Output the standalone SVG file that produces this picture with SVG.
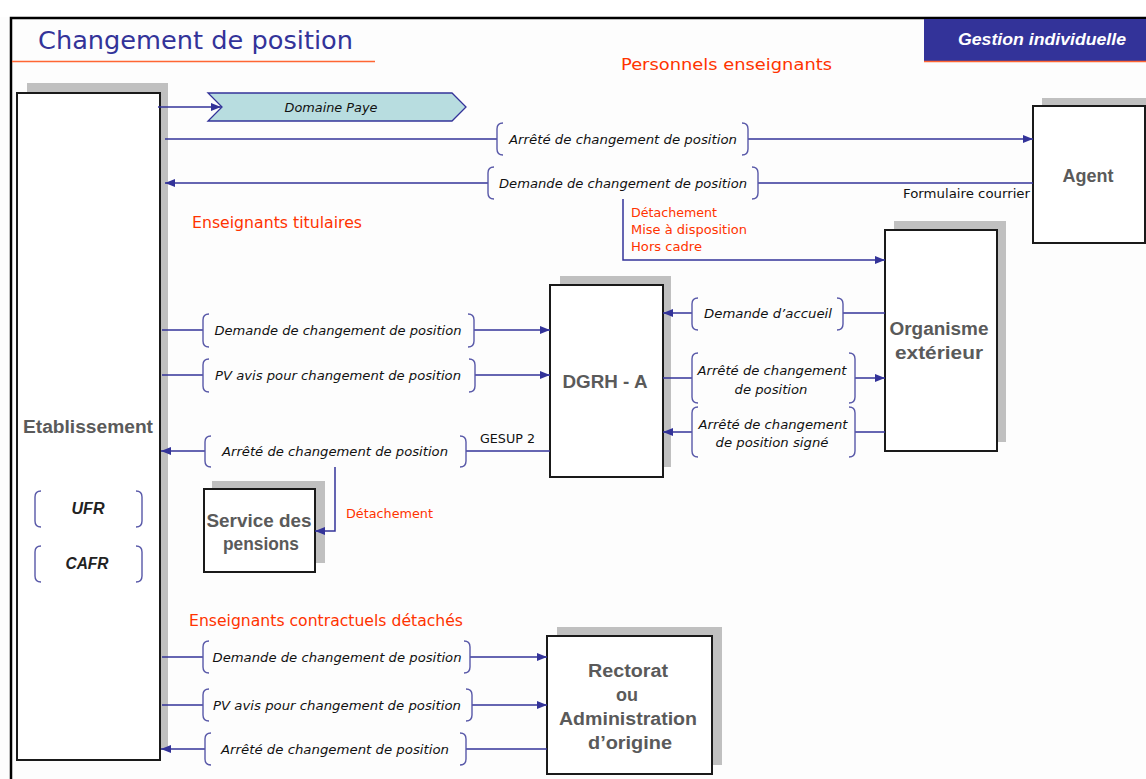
<svg xmlns="http://www.w3.org/2000/svg" width="1146" height="779" viewBox="0 0 1146 779">
  <defs>
    <marker id="arrow" viewBox="0 0 10 8" refX="10" refY="4" markerWidth="10" markerHeight="8" markerUnits="userSpaceOnUse" orient="auto">
      <path d="M0,0 L10,4 L0,8 Z" fill="#333399"/>
    </marker>
    <style>
      .shadow { fill: #c0c0c0; }
      .box { fill: #ffffff; stroke: #1a1a1a; stroke-width: 2; }
      .node-text { font-family: "Liberation Sans", Arial, sans-serif; font-weight: bold; font-size: 18px; fill: #5a5a5a; text-anchor: middle; }
      .wire { fill: none; stroke: #333399; stroke-width: 1.5; }
      .brace { fill: none; stroke: #5858a8; stroke-width: 1.4; }
      .label { font-family: "DejaVu Sans", Verdana, sans-serif; font-style: italic; font-size: 12.5px; fill: #111111; text-anchor: middle; }
      .note-red { font-family: "DejaVu Sans", Verdana, sans-serif; font-size: 12.5px; fill: #ff3300; }
      .section { font-family: "DejaVu Sans", Verdana, sans-serif; font-size: 15px; fill: #ff3300; }
      .note-black { font-family: "DejaVu Sans", Verdana, sans-serif; font-size: 12px; fill: #111111; }
    </style>
  </defs>

  <!-- page background and frame -->
  <rect x="0" y="0" width="1146" height="779" fill="#fdfdfd"/>
  <rect x="0" y="0" width="1146" height="17" fill="#ffffff"/>
  <path d="M11,779 V18 H1146" fill="none" stroke="#000000" stroke-width="2.5"/>

  <!-- header -->
  <g id="header">
    <text x="38" y="49" font-family="'DejaVu Sans', Verdana, sans-serif" font-size="25.5" fill="#333399" textLength="315" lengthAdjust="spacingAndGlyphs">Changement de position</text>
    <line x1="12" y1="61.5" x2="375" y2="61.5" stroke="#ff6633" stroke-width="1.5"/>
    <rect x="924" y="19" width="222" height="42" fill="#333399"/>
    <line x1="924" y1="61.5" x2="1146" y2="61.5" stroke="#ff6633" stroke-width="1.5"/>
    <text x="1042" y="45" font-family="'Liberation Sans', Arial, sans-serif" font-weight="bold" font-style="italic" font-size="16" fill="#ffffff" text-anchor="middle" textLength="168" lengthAdjust="spacingAndGlyphs">Gestion individuelle</text>
    <text x="621" y="70" class="section" font-size="16" textLength="211" lengthAdjust="spacingAndGlyphs">Personnels enseignants</text>
  </g>

  <!-- section titles and notes -->
  <g id="notes">
    <text x="192" y="228" class="section" textLength="170" lengthAdjust="spacingAndGlyphs">Enseignants titulaires</text>
    <text x="189" y="626" class="section" textLength="274" lengthAdjust="spacingAndGlyphs">Enseignants contractuels détachés</text>
    <text x="631" y="217" class="note-red" textLength="86" lengthAdjust="spacingAndGlyphs">Détachement</text>
    <text x="631" y="234" class="note-red" textLength="116" lengthAdjust="spacingAndGlyphs">Mise à disposition</text>
    <text x="631" y="251" class="note-red" textLength="71" lengthAdjust="spacingAndGlyphs">Hors cadre</text>
    <text x="346" y="518" class="note-red" textLength="87" lengthAdjust="spacingAndGlyphs">Détachement</text>
    <text x="903" y="198" class="note-black" textLength="127" lengthAdjust="spacingAndGlyphs">Formulaire courrier</text>
    <text x="480" y="443" class="note-black" textLength="55" lengthAdjust="spacingAndGlyphs">GESUP 2</text>
  </g>

  <!-- nodes -->
  <g id="etablissement">
    <rect class="shadow" x="27" y="83" width="141" height="667"/>
    <rect class="box" x="17" y="93" width="143" height="667"/>
    <text class="node-text" x="88" y="433" font-size="19" textLength="130" lengthAdjust="spacingAndGlyphs">Etablissement</text>
    <path class="brace" d="M41,491 Q35,491 35,497 V521 Q35,527 41,527 M136,491 Q142,491 142,497 V521 Q142,527 136,527"/>
    <text x="88" y="514" font-family="'Liberation Sans', Arial, sans-serif" font-weight="bold" font-style="italic" font-size="16" fill="#222222" text-anchor="middle" textLength="33" lengthAdjust="spacingAndGlyphs">UFR</text>
    <path class="brace" d="M41,546 Q35,546 35,552 V576 Q35,582 41,582 M136,546 Q142,546 142,552 V576 Q142,582 136,582"/>
    <text x="87" y="569" font-family="'Liberation Sans', Arial, sans-serif" font-weight="bold" font-style="italic" font-size="16" fill="#222222" text-anchor="middle" textLength="43" lengthAdjust="spacingAndGlyphs">CAFR</text>
  </g>

  <g id="domaine-paye">
    <polygon points="208,93 452,93 466,107 452,121 208,121 222,107" fill="#b8dde0" stroke="#333399" stroke-width="1.3"/>
    <text class="label" x="331" y="112" textLength="93" lengthAdjust="spacingAndGlyphs">Domaine Paye</text>
  </g>

  <g id="agent">
    <rect class="shadow" x="1042" y="98" width="104" height="137"/>
    <rect class="box" x="1033" y="106" width="112" height="137"/>
    <text class="node-text" x="1088" y="182" textLength="51" lengthAdjust="spacingAndGlyphs">Agent</text>
  </g>

  <g id="organisme-exterieur">
    <rect class="shadow" x="894" y="221" width="112" height="221"/>
    <rect class="box" x="885" y="230" width="112" height="221"/>
    <text class="node-text" x="939" y="335" textLength="99" lengthAdjust="spacingAndGlyphs">Organisme</text>
    <text class="node-text" x="939" y="359" textLength="88" lengthAdjust="spacingAndGlyphs">extérieur</text>
  </g>

  <g id="dgrh-a">
    <rect class="shadow" x="560" y="276" width="111" height="191"/>
    <rect class="box" x="550" y="285" width="113" height="192"/>
    <text class="node-text" x="605" y="388" font-size="19" textLength="85" lengthAdjust="spacingAndGlyphs">DGRH - A</text>
  </g>

  <g id="service-pensions">
    <rect class="shadow" x="212" y="481" width="113" height="82"/>
    <rect class="box" x="204" y="489" width="111" height="83"/>
    <text class="node-text" x="259" y="527" textLength="105" lengthAdjust="spacingAndGlyphs">Service des</text>
    <text class="node-text" x="261" y="550" textLength="76" lengthAdjust="spacingAndGlyphs">pensions</text>
  </g>

  <g id="rectorat">
    <rect class="shadow" x="557" y="627" width="165" height="138"/>
    <rect class="box" x="547" y="636" width="165" height="138"/>
    <text class="node-text" x="628" y="677" textLength="80" lengthAdjust="spacingAndGlyphs">Rectorat</text>
    <text class="node-text" x="627" y="701">ou</text>
    <text class="node-text" x="628" y="725" textLength="138" lengthAdjust="spacingAndGlyphs">Administration</text>
    <text class="node-text" x="630" y="749" textLength="84" lengthAdjust="spacingAndGlyphs">d’origine</text>
  </g>

  <!-- connectors -->
  <g id="connectors">
    <path class="wire" d="M158,107 H221" marker-end="url(#arrow)"/>

    <path class="wire" d="M165,139 H497"/>
    <path class="wire" d="M748,139 H1033" marker-end="url(#arrow)"/>

    <path class="wire" d="M1033,183 H758"/>
    <path class="wire" d="M488,183 H165" marker-end="url(#arrow)"/>

    <path class="wire" d="M623,199 V260 H885" marker-end="url(#arrow)"/>

    <path class="wire" d="M162,330 H203"/>
    <path class="wire" d="M474,330 H550" marker-end="url(#arrow)"/>

    <path class="wire" d="M162,375 H203"/>
    <path class="wire" d="M475,375 H550" marker-end="url(#arrow)"/>

    <path class="wire" d="M550,451 H466"/>
    <path class="wire" d="M205,451 H161" marker-end="url(#arrow)"/>

    <path class="wire" d="M335,467 V531 H315" marker-end="url(#arrow)"/>

    <path class="wire" d="M885,313 H843"/>
    <path class="wire" d="M692,313 H663" marker-end="url(#arrow)"/>

    <path class="wire" d="M663,378 H692"/>
    <path class="wire" d="M855,378 H885" marker-end="url(#arrow)"/>

    <path class="wire" d="M885,432 H855"/>
    <path class="wire" d="M692,432 H663" marker-end="url(#arrow)"/>

    <path class="wire" d="M162,657 H203"/>
    <path class="wire" d="M470,657 H547" marker-end="url(#arrow)"/>

    <path class="wire" d="M162,705 H203"/>
    <path class="wire" d="M472,705 H547" marker-end="url(#arrow)"/>

    <path class="wire" d="M547,749 H466"/>
    <path class="wire" d="M205,749 H161" marker-end="url(#arrow)"/>
  </g>

  <!-- bracketed connector labels -->
  <g id="labels">
    <path class="brace" d="M503,123 Q497,123 497,129 V149 Q497,155 503,155 M742,123 Q748,123 748,129 V149 Q748,155 742,155"/>
    <text class="label" x="623" y="144" textLength="228" lengthAdjust="spacingAndGlyphs">Arrêté de changement de position</text>

    <path class="brace" d="M494,167 Q488,167 488,173 V193 Q488,199 494,199 M752,167 Q758,167 758,173 V193 Q758,199 752,199"/>
    <text class="label" x="623" y="188" textLength="248" lengthAdjust="spacingAndGlyphs">Demande de changement de position</text>

    <path class="brace" d="M209,314 Q203,314 203,320 V341 Q203,347 209,347 M468,314 Q474,314 474,320 V341 Q474,347 468,347"/>
    <text class="label" x="338" y="335" textLength="247" lengthAdjust="spacingAndGlyphs">Demande de changement de position</text>

    <path class="brace" d="M209,359 Q203,359 203,365 V386 Q203,392 209,392 M469,359 Q475,359 475,365 V386 Q475,392 469,392"/>
    <text class="label" x="338" y="380" textLength="246" lengthAdjust="spacingAndGlyphs">PV avis pour changement de position</text>

    <path class="brace" d="M211,436 Q205,436 205,442 V461 Q205,467 211,467 M460,436 Q466,436 466,442 V461 Q466,467 460,467"/>
    <text class="label" x="335" y="456" textLength="226" lengthAdjust="spacingAndGlyphs">Arrêté de changement de position</text>

    <path class="brace" d="M698,298 Q692,298 692,304 V324 Q692,330 698,330 M837,298 Q843,298 843,304 V324 Q843,330 837,330"/>
    <text class="label" x="768" y="318" textLength="128" lengthAdjust="spacingAndGlyphs">Demande d’accueil</text>

    <path class="brace" d="M698,353 Q692,353 692,359 V397 Q692,403 698,403 M849,353 Q855,353 855,359 V397 Q855,403 849,403"/>
    <text class="label" x="772" y="375" textLength="149" lengthAdjust="spacingAndGlyphs">Arrêté de changement</text>
    <text class="label" x="771" y="394" textLength="73" lengthAdjust="spacingAndGlyphs">de position</text>

    <path class="brace" d="M698,407 Q692,407 692,413 V451 Q692,457 698,457 M849,407 Q855,407 855,413 V451 Q855,457 849,457"/>
    <text class="label" x="773" y="429" textLength="149" lengthAdjust="spacingAndGlyphs">Arrêté de changement</text>
    <text class="label" x="772" y="447" textLength="113" lengthAdjust="spacingAndGlyphs">de position signé</text>

    <path class="brace" d="M209,641 Q203,641 203,647 V667 Q203,673 209,673 M464,641 Q470,641 470,647 V667 Q470,673 464,673"/>
    <text class="label" x="337" y="662" textLength="249" lengthAdjust="spacingAndGlyphs">Demande de changement de position</text>

    <path class="brace" d="M209,689 Q203,689 203,695 V715 Q203,721 209,721 M466,689 Q472,689 472,695 V715 Q472,721 466,721"/>
    <text class="label" x="337" y="710" textLength="248" lengthAdjust="spacingAndGlyphs">PV avis pour changement de position</text>

    <path class="brace" d="M211,733 Q205,733 205,739 V759 Q205,765 211,765 M460,733 Q466,733 466,739 V759 Q466,765 460,765"/>
    <text class="label" x="335" y="754" textLength="228" lengthAdjust="spacingAndGlyphs">Arrêté de changement de position</text>
  </g>
</svg>
